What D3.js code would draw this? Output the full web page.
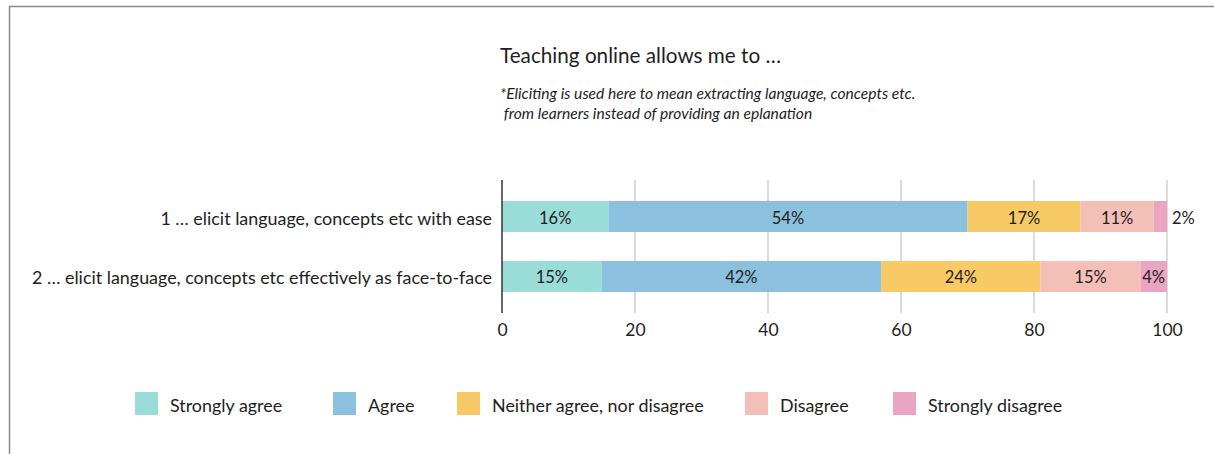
<!DOCTYPE html>
<html><head><meta charset="utf-8">
<script src="https://cdn.jsdelivr.net/npm/d3@7"></script>
<style>
html,body{margin:0;padding:0;background:#fff;}
svg text{font-family:Lato,"Noto Sans",sans-serif;fill:#1e1e1e;}
</style></head>
<body><svg id="c" width="1214" height="454"></svg>
<script>
const categories = ["1 \u2026 elicit language, concepts etc with ease",
                    "2 \u2026 elicit language, concepts etc effectively as face-to-face"];
const seriesNames = ["Strongly agree","Agree","Neither agree, nor disagree","Disagree","Strongly disagree"];
const strongly_agree = [16,15];
const agree = [54,42];
const neither = [17,24];
const disagree = [11,15];
const strongly_disagree = [2,4];
const tickValues = [0,20,40,60,80,100];
const colors = ["#9adcd8","#8bc0de","#f7ca66","#f4bfb7","#e9a5c1"];

const series = [strongly_agree, agree, neither, disagree, strongly_disagree];
const rows = categories.map((c,i)=>{const o={cat:c}; seriesNames.forEach((s,j)=>o[s]=series[j][i]); return o;});
const stacked = d3.stack().keys(seriesNames)(rows);

const svg = d3.select("#c");
// frame
svg.append("line").attr("x1",9).attr("x2",1214).attr("y1",6.5).attr("y2",6.5).attr("stroke","#8a8a8a").attr("stroke-width",1.5);
svg.append("line").attr("x1",9.5).attr("x2",9.5).attr("y1",6).attr("y2",454).attr("stroke","#8a8a8a").attr("stroke-width",1.5);

const x = d3.scaleLinear().domain([0,100]).range([502,1167]);
const y = d3.scaleBand().domain(categories).range([186.5,306.5]).paddingInner(0.4833).paddingOuter(0.2417);

// title
svg.append("text").attr("x",500).attr("y",63).attr("font-size",20.7).text("Teaching online allows me to \u2026");
svg.append("text").attr("x",500).attr("y",99).attr("font-size",15.6).attr("font-style","italic")
  .text("*Eliciting is used here to mean extracting language, concepts etc.");
svg.append("text").attr("x",500).attr("y",119).attr("font-size",15.6).attr("font-style","italic")
  .text("\u00a0from learners instead of providing an eplanation");

// grid
const gTop=180, gBot=313;
svg.append("g").selectAll("line").data(tickValues.filter(d=>d>0)).join("line")
  .attr("x1",d=>x(d)).attr("x2",d=>x(d)).attr("y1",gTop).attr("y2",gBot)
  .attr("stroke","#cfcfcf").attr("stroke-width",1.5);

// bars
const gs = svg.append("g").selectAll("g").data(stacked).join("g").attr("fill",(d,i)=>colors[i]);
gs.selectAll("rect").data(d=>d.map(v=>({v,key:d.key}))).join("rect")
  .attr("x",d=>x(d.v[0])).attr("width",d=>x(d.v[1])-x(d.v[0]))
  .attr("y",d=>y(d.v.data.cat)).attr("height",y.bandwidth());
gs.selectAll("text").data(d=>d.map(v=>({v,key:d.key}))).join("text")
  .attr("font-size",16.5)
  .attr("dominant-baseline","central")
  .attr("text-anchor",d=> (x(d.v[1])-x(d.v[0]))<20 ? "start":"middle")
  .attr("x",d=> (x(d.v[1])-x(d.v[0]))<20 ? x(d.v[1])+5 : (x(d.v[0])+x(d.v[1]))/2)
  .attr("y",d=>y(d.v.data.cat)+y.bandwidth()/2+1)
  .style("fill","#1e1e1e")
  .text(d=>(d.v[1]-d.v[0])+"%");

// zero axis line
svg.append("line").attr("x1",x(0)).attr("x2",x(0)).attr("y1",gTop).attr("y2",gBot).attr("stroke","#333").attr("stroke-width",1.5);

// x tick labels
const xa = svg.append("g").attr("transform",`translate(0,${gBot})`)
  .call(d3.axisBottom(x).tickValues(tickValues).tickSize(0).tickPadding(11).tickFormat(d3.format("d")));
xa.select(".domain").remove();
xa.selectAll("text").attr("font-size",17.5).style("font-family","Lato, 'Noto Sans', sans-serif").style("fill","#1e1e1e");

// category labels
svg.append("g").selectAll("text").data(categories).join("text")
  .attr("x",492).attr("y",d=>y(d)+y.bandwidth()/2+1).attr("dominant-baseline","central")
  .attr("text-anchor","end").attr("font-size",17.9).text(d=>d);

// legend
const legX = [135,333,457,745,893];
const lg = svg.append("g").selectAll("g").data(seriesNames).join("g")
  .attr("transform",(d,i)=>`translate(${legX[i]},392)`);
lg.append("rect").attr("width",23).attr("height",23).attr("fill",(d,i)=>colors[i]);
lg.append("text").attr("x",35).attr("y",12.5).attr("dominant-baseline","central").attr("font-size",17.9).text(d=>d);
</script></body></html>
